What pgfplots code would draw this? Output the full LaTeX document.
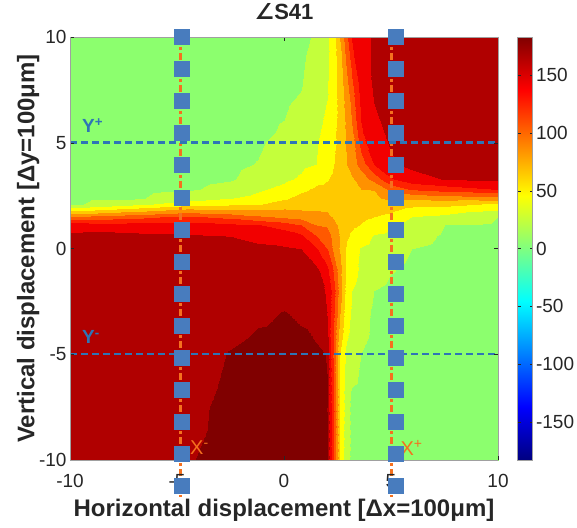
\documentclass[border=0pt]{standalone}
\usepackage{pgfplots}
\pgfplotsset{compat=1.18}
\usepackage{fontspec}
\setmainfont{Liberation Sans}
\newfontfamily\djv{DejaVu Sans}

\definecolor{tickgray}{RGB}{38,38,38}
\definecolor{framegray}{RGB}{160,160,160}
\definecolor{lineblue}{RGB}{46,117,182}
\definecolor{markblue}{RGB}{72,124,190}
\definecolor{lineorange}{RGB}{245,112,30}

\begin{document}
\begin{tikzpicture}
\path[use as bounding box] (-70pt,-67pt) rectangle (507pt,460pt);
\begin{axis}[
  scale only axis, width=428pt, height=423pt,
  view={0}{90},
  xmin=-10, xmax=10, ymin=-10, ymax=10,
  xtick={-10,-5,...,10}, ytick={-10,-5,...,10}, ztick=\empty,
  tick align=inside, major tick length=4pt,
  ticklabel style={font=\fontsize{19}{21}\selectfont, text=tickgray},
  xticklabel style={yshift=-11pt},
  /pgf/number format/assume math mode=true,
  axis line style={framegray},
  tick style={tickgray},
  colormap/jet,
  point meta min=-183, point meta max=183,
  colorbar,
  colorbar style={
    at={(parent axis.north east)}, anchor=north west, xshift=11pt,
    width=15pt,
    ytick={-150,-100,...,150},
    yticklabel style={font=\fontsize{19}{21}\selectfont, text=tickgray},
    /pgf/number format/assume math mode=true,
    axis line style={framegray},
    tick style={tickgray}, major tick length=3pt,
  },
  title={{\djv ∠}S41},
  title style={font=\fontsize{22}{24}\selectfont\bfseries, text=tickgray,
    at={(axis description cs:0.5,1.047)}, anchor=center},
  xlabel={Horizontal displacement [Δx=100μm]},
  ylabel={Vertical displacement [Δy=100μm]},
  label style={font=\fontsize{24}{26}\selectfont\bfseries, text=tickgray},
  xlabel style={at={(axis description cs:0.5,-0.118)}, anchor=center},
  ylabel style={at={(axis description cs:-0.098,0.5)}, anchor=center},
  clip=false,
]
% filled contour of the phase, banded by a piecewise constant map
\addplot3[surf, shader=interp, mesh/cols=19,
  colormap={bands}{
    rgb(0pt)=(0.55,1,0.43)
    rgb(203pt)=(0.77,1,0.23)
    rgb(223pt)=(1,1,0)
    rgb(243pt)=(1,0.79,0)
    rgb(263pt)=(1,0.57,0)
    rgb(283pt)=(1,0.35,0)
    rgb(303pt)=(1,0.13,0)
    rgb(323pt)=(0.95,0,0)
    rgb(343pt)=(0.69,0,0)
    rgb(358pt)=(0.5,0,0)
    rgb(366pt)=(0.5,0,0)
  },
  colormap access=piecewise constant]
coordinates {
(-10,-10,168) (-7,-10,170) (-4.5,-10,174.5) (-2.5,-10,177.5) (-1.2,-10,178) (0,-10,178) (0.8,-10,177.5) (1.5,-10,177) (2.0,-10,176) (2.3,-10,126.7) (2.6,-10,60) (2.9,-10,27.5) (3.2,-10,15) (3.6,-10,13) (4.2,-10,12) (5.0,-10,11) (6.0,-10,10) (7.5,-10,10) (10,-10,10)

(-10,-7.5,168) (-7,-7.5,169.5) (-4.5,-7.5,173) (-2.5,-7.5,177) (-1.2,-7.5,178) (0,-7.5,178) (0.8,-7.5,177.5) (1.5,-7.5,177) (2.0,-7.5,175.5) (2.3,-7.5,125) (2.6,-7.5,60) (2.9,-7.5,31) (3.2,-7.5,14) (3.6,-7.5,12) (4.2,-7.5,11) (5.0,-7.5,10.5) (6.0,-7.5,10) (7.5,-7.5,10) (10,-7.5,10)

(-10,-5,167) (-7,-5,168.5) (-4.5,-5,171) (-2.5,-5,175.5) (-1.2,-5,177.5) (0,-5,178) (0.8,-5,177) (1.5,-5,176.5) (2.0,-5,174.7) (2.3,-5,120) (2.6,-5,60) (2.9,-5,37.5) (3.2,-5,30) (3.6,-5,20) (4.2,-5,15) (5.0,-5,12) (6.0,-5,11) (7.5,-5,10) (10,-5,10)

(-10,-3,166) (-7,-3,167) (-4.5,-3,168.5) (-2.5,-3,171) (-1.2,-3,173.5) (0,-3,175.2) (0.8,-3,174) (1.5,-3,171) (2.0,-3,160) (2.3,-3,129.2) (2.6,-3,81.7) (2.9,-3,49.7) (3.2,-3,37.1) (3.6,-3,27.3) (4.2,-3,17) (5.0,-3,13) (6.0,-3,11.5) (7.5,-3,10.5) (10,-3,10)

(-10,-2,166) (-7,-2,166.5) (-4.5,-2,167.5) (-2.5,-2,169) (-1.2,-2,170.5) (0,-2,171.5) (0.8,-2,170.5) (1.5,-2,167) (2.0,-2,158) (2.3,-2,132) (2.6,-2,90) (2.9,-2,54) (3.2,-2,40) (3.6,-2,32) (4.2,-2,20) (5.0,-2,15) (6.0,-2,12.5) (7.5,-2,11) (10,-2,10.5)

(-10,-1,166) (-7,-1,166) (-4.5,-1,166.5) (-2.5,-1,167) (-1.2,-1,167.5) (0,-1,167) (0.8,-1,166) (1.5,-1,165) (2.0,-1,146) (2.3,-1,120) (2.6,-1,85.6) (2.9,-1,60) (3.2,-1,48) (3.6,-1,36.5) (4.2,-1,30.6) (5.0,-1,21.2) (6.0,-1,16) (7.5,-1,13) (10,-1,11.5)

(-10,0,167) (-7,0,167) (-4.5,0,166.5) (-2.5,0,165.5) (-1.2,0,164) (0,0,162.5) (0.8,0,160) (1.5,0,142.5) (2.0,0,120) (2.3,0,96.7) (2.6,0,78.5) (2.9,0,58.9) (3.2,0,47.5) (3.6,0,38.5) (4.2,0,33.8) (5.0,0,27.7) (6.0,0,20) (7.5,0,16) (10,0,13)

(-10,0.6,163.5) (-7,0.6,164) (-4.5,0.6,162) (-2.5,0.6,159.7) (-1.2,0.6,154.7) (0,0.6,150.7) (0.8,0.6,144) (1.5,0.6,120) (2.0,0.6,112) (2.3,0.6,94) (2.6,0.6,79) (2.9,0.6,64) (3.2,0.6,56) (3.6,0.6,49) (4.2,0.6,38.5) (5.0,0.6,36.6) (6.0,0.6,26) (7.5,0.6,18) (10,0.6,15)

(-10,1.1,153.6) (-7,1.1,150) (-4.5,1.1,148.3) (-2.5,1.1,144.3) (-1.2,1.1,141.3) (0,1.1,132) (0.8,1.1,120) (1.5,1.1,100) (2.0,1.1,97) (2.3,1.1,86) (2.6,1.1,76) (2.9,1.1,68) (3.2,1.1,64) (3.6,1.1,59) (4.2,1.1,48.6) (5.0,1.1,40) (6.0,1.1,31.6) (7.5,1.1,20) (10,1.1,17.3)

(-10,1.5,103.3) (-7,1.5,115.4) (-4.5,1.5,125) (-2.5,1.5,114.1) (-1.2,1.5,104) (0,1.5,97.5) (0.8,1.5,93.3) (1.5,1.5,87.7) (2.0,1.5,88) (2.3,1.5,78.6) (2.6,1.5,73.5) (2.9,1.5,71) (3.2,1.5,69) (3.6,1.5,66) (4.2,1.5,60) (5.0,1.5,54) (6.0,1.5,39.4) (7.5,1.5,35.4) (10,1.5,20)

(-10,1.8,53.3) (-7,1.8,70.8) (-4.5,1.8,86.7) (-2.5,1.8,82) (-1.2,1.8,80) (0,1.8,82.5) (0.8,1.8,80) (1.5,1.8,79.2) (2.0,1.8,77) (2.3,1.8,75) (2.6,1.8,72.5) (2.9,1.8,72.5) (3.2,1.8,72) (3.6,1.8,71) (4.2,1.8,68) (5.0,1.8,64) (6.0,1.8,52.5) (7.5,1.8,49.5) (10,1.8,40)

(-10,2.1,16) (-7,2.1,34.3) (-4.5,2.1,50) (-2.5,2.1,56) (-1.2,2.1,58) (0,2.1,68.9) (0.8,2.1,73) (1.5,2.1,74.4) (2.0,2.1,72) (2.3,2.1,72) (2.6,2.1,72) (2.9,2.1,73) (3.2,2.1,74) (3.6,2.1,73.5) (4.2,2.1,73) (5.0,2.1,73.7) (6.0,2.1,67.5) (7.5,2.1,66.7) (10,2.1,57)

(-10,2.4,13) (-7,2.4,17) (-4.5,2.4,31.1) (-2.5,2.4,39.4) (-1.2,2.4,46.3) (0,2.4,57.1) (0.8,2.4,65.9) (1.5,2.4,69.6) (2.0,2.4,68) (2.3,2.4,69) (2.6,2.4,71) (2.9,2.4,73.5) (3.2,2.4,75.5) (3.6,2.4,76) (4.2,2.4,77) (5.0,2.4,85) (6.0,2.4,85) (7.5,2.4,90) (10,2.4,93.3)

(-10,2.8,11.5) (-7,2.8,13.5) (-4.5,2.8,17.5) (-2.5,2.8,26) (-1.2,2.8,36.5) (0,2.8,45.7) (0.8,2.8,56) (1.5,2.8,63.2) (2.0,2.8,64) (2.3,2.8,66) (2.6,2.8,70) (2.9,2.8,74) (3.2,2.8,77.5) (3.6,2.8,80) (4.2,2.8,80.5) (5.0,2.8,108) (6.0,2.8,123.3) (7.5,2.8,130.4) (10,2.8,141.5)

(-10,3.3,10) (-7,3.3,11.5) (-4.5,3.3,14) (-2.5,3.3,18.5) (-1.2,3.3,26.8) (0,3.3,35.8) (0.8,3.3,43.1) (1.5,3.3,55) (2.0,3.3,59) (2.3,3.3,63) (2.6,3.3,68.6) (2.9,3.3,74.3) (3.2,3.3,78) (3.6,3.3,88) (4.2,3.3,108) (5.0,3.3,138) (6.0,3.3,153) (7.5,3.3,161) (10,3.3,164)

(-10,4,9) (-7,4,10) (-4.5,4,12) (-2.5,4,16) (-1.2,4,20.7) (0,4,29.3) (0.8,4,35) (1.5,4,40) (2.0,4,51.8) (2.3,4,58.8) (2.6,4,68.3) (2.9,4,78.3) (3.2,4,90) (3.6,4,110) (4.2,4,142) (5.0,4,158) (6.0,4,164.5) (7.5,4,165) (10,4,165.5)

(-10,5.5,8) (-7,5.5,9) (-4.5,5.5,10) (-2.5,5.5,12) (-1.2,5.5,16) (0,5.5,22) (0.8,5.5,29.8) (1.5,5.5,36.6) (2.0,5.5,45) (2.3,5.5,55) (2.6,5.5,67.5) (2.9,5.5,82.5) (3.2,5.5,97.5) (3.6,5.5,137.6) (4.2,5.5,155.9) (5.0,5.5,163) (6.0,5.5,164.5) (7.5,5.5,165.5) (10,5.5,166)

(-10,7.5,8) (-7,7.5,8) (-4.5,7.5,9) (-2.5,7.5,10) (-1.2,7.5,12) (0,7.5,15) (0.8,7.5,19.6) (1.5,7.5,30.4) (2.0,7.5,38.4) (2.3,7.5,50.5) (2.6,7.5,68.9) (2.9,7.5,88.6) (3.2,7.5,113.3) (3.6,7.5,148) (4.2,7.5,162) (5.0,7.5,164.5) (6.0,7.5,165) (7.5,7.5,166) (10,7.5,166)

(-10,10,8) (-7,10,8) (-4.5,10,8) (-2.5,10,9) (-1.2,10,10) (0,10,12) (0.8,10,15) (1.5,10,22.7) (2.0,10,36) (2.3,10,51.1) (2.6,10,80) (2.9,10,113.3) (3.2,10,142.9) (3.6,10,154.3) (4.2,10,162) (5.0,10,164) (6.0,10,165) (7.5,10,166) (10,10,166)
};
% X- / X+ scan lines
\addplot[lineorange, line width=3pt, dash pattern=on 7pt off 3pt on 3pt off 3pt]
  coordinates {(-4.85,10) (-4.85,-11.75)};
\addplot[lineorange, line width=3pt, dash pattern=on 7pt off 3pt on 3pt off 3pt]
  coordinates {(5.0,10) (5.0,-11.75)};
% measurement points
\addplot[only marks, mark=square*, mark size=7.5pt, color=markblue]
  coordinates {(-4.8,10) (-4.8,8.485) (-4.8,6.97) (-4.8,5.455) (-4.8,3.94)
    (-4.8,2.425) (-4.8,0.91) (-4.8,-0.605) (-4.8,-2.12) (-4.8,-3.635)
    (-4.8,-5.15) (-4.8,-6.665) (-4.8,-8.18) (-4.8,-9.695) (-4.8,-11.21)};
\addplot[only marks, mark=square*, mark size=7.5pt, color=markblue]
  coordinates {(5.2,10) (5.2,8.485) (5.2,6.97) (5.2,5.455) (5.2,3.94)
    (5.2,2.425) (5.2,0.91) (5.2,-0.605) (5.2,-2.12) (5.2,-3.635)
    (5.2,-5.15) (5.2,-6.665) (5.2,-8.18) (5.2,-9.695) (5.2,-11.21)};
% Y+ / Y- scan lines
\addplot[lineblue, line width=2.5pt, dash pattern=on 7pt off 4pt]
  coordinates {(-10,5) (10,5)};
\addplot[lineblue, line width=2.5pt, dash pattern=on 7pt off 4pt]
  coordinates {(-10,-5) (10,-5)};

\node[anchor=west, text=lineblue, font=\fontsize{19}{19}\selectfont\bfseries]
  at (axis cs:-9.6,5.8) {Y\textsuperscript{+}};
\node[anchor=west, text=lineblue, font=\fontsize{19}{19}\selectfont\bfseries]
  at (axis cs:-9.6,-4.2) {Y\textsuperscript{-}};
\node[anchor=west, text=lineorange, font=\fontsize{20}{20}\selectfont]
  at (axis cs:-4.55,-9.43) {X\textsuperscript{-}};
\node[anchor=west, text=lineorange, font=\fontsize{20}{20}\selectfont]
  at (axis cs:5.28,-9.43) {X\textsuperscript{+}};
\end{axis}
\end{tikzpicture}
\end{document}
